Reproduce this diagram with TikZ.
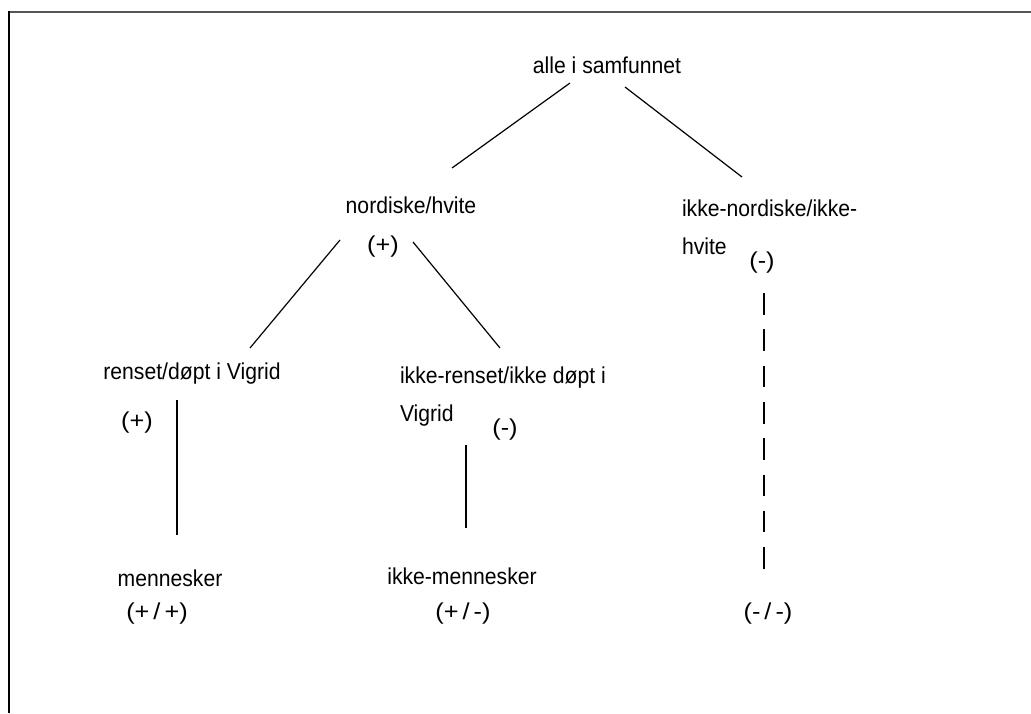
\documentclass[tikz,border=0pt]{standalone}
\usepackage{fontspec}
\setmainfont[FakeStretch=0.92]{Liberation Sans}
\newfontfamily\pmfont[FakeStretch=1.1]{Liberation Sans}
\usetikzlibrary{calc}
\definecolor{framegray}{RGB}{85,85,85}
\newcommand{\pmslash}{\kern4pt/\kern4pt}
\begin{document}
\begin{tikzpicture}[x=1pt,y=-1pt,
  lbl/.style={inner sep=0pt, outer sep=0pt, font=\fontsize{23}{38}\selectfont, anchor=base},
  lblml/.style={inner sep=0pt, outer sep=0pt, font=\fontsize{23}{38}\selectfont, anchor=north west, align=left},
  pm/.style={inner sep=0pt, outer sep=0pt, font=\pmfont\fontsize{23}{38}\selectfont, anchor=base},
  branch/.style={draw=black, line width=1.2pt},
  stem/.style={draw=black, line width=1.8pt},
  dashstem/.style={draw=black, line width=1.8pt, dash pattern=on 21.6pt off 14.7pt}]
\useasboundingbox (0,0) rectangle (1031,713);
\fill[white] (0,0) rectangle (1031,713);
% frame
\draw[framegray, line width=2pt] (8,12) -- (1031,12);
\draw[black, line width=1.4pt] (9,11) -- (9,713);
% labels
\node[lbl] (alle) at (607,73) {alle i samfunnet};
\node[lbl] (nord) at (411,213) {nordiske/hvite};
\node[pm] (plusA) at (383,252) {(+)};
\node[lblml] (ikkenord) at (682,200) {ikke-nordiske/ikke-\\hvite};
\node[pm] (minusA) at (762,268) {(-)};
\node[lbl] (renset) at (192,379) {renset/døpt i Vigrid};
\node[pm] (plusB) at (137,428) {(+)};
\node[lblml] (ikkerenset) at (400,367) {ikke-renset/ikke døpt i\\Vigrid};
\node[pm] (minusB) at (505,435) {(-)};
\node[lbl] (menn) at (170,586) {mennesker};
\node[lbl] (ikkemenn) at (462,584) {ikke-mennesker};
\node[pm] (pp) at (157,619) {(+\pmslash+)};
\node[pm] (pmB) at (463,619) {(+\pmslash-)};
\node[pm] (mm) at (768,619) {(-\pmslash-)};
% branches
\draw[branch] ([shift={(-37,10)}]alle.base) -- ([shift={(41,-45)}]nord.base);
\draw[branch] ([shift={(18,14)}]alle.base) -- ([shift={(60,-23)}]ikkenord.north west);
\draw[branch] ([shift={(-71,27)}]nord.base) -- ([shift={(58,-31)}]renset.base);
\draw[branch] ([shift={(2,29)}]nord.base) -- ([shift={(100,-19)}]ikkerenset.north west);
% stems
\coordinate (v1a) at ([shift={(-15,21)}]renset.base);
\coordinate (v1b) at ([shift={(0,-51)}]menn.base);
\draw[stem] (v1a) -- (v1a |- v1b);
\coordinate (v2a) at ([shift={(-39,10)}]minusB.base);
\coordinate (v2b) at ([shift={(0,-56)}]ikkemenn.base);
\draw[stem] (v2a) -- (v2a |- v2b);
\coordinate (v3a) at ([shift={(2,25)}]minusA.base);
\coordinate (v3b) at ([shift={(0,-50)}]mm.base);
\draw[dashstem] (v3a) -- (v3a |- v3b);
\end{tikzpicture}
\end{document}
